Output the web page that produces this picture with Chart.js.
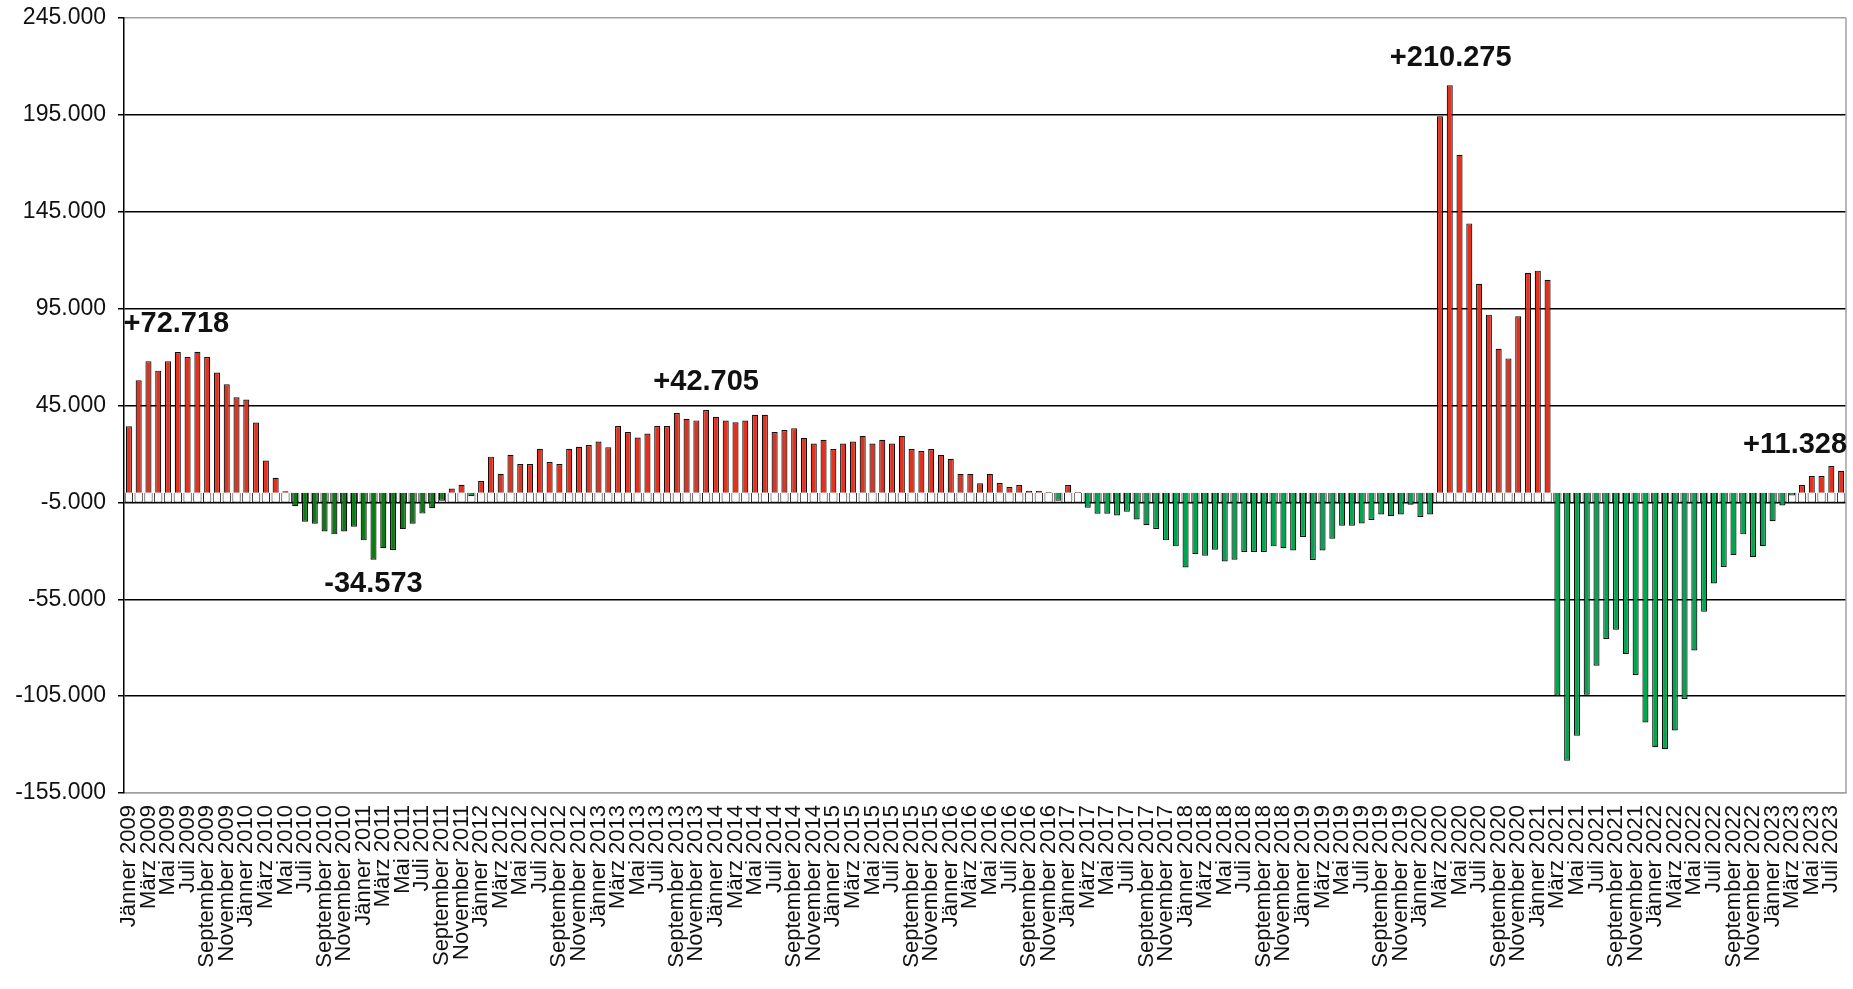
<!DOCTYPE html>
<html>
<head>
<meta charset="utf-8">
<script src="https://cdn.jsdelivr.net/npm/chart.js@4.4.1/dist/chart.umd.min.js"></script>
<style>
html, body { margin: 0; padding: 0; background: #fff; }
#wrap { width: 1853px; height: 989px; position: relative; }
</style>
</head>
<body>
<div id="wrap"><canvas id="grafico_balken"></canvas></div>
<script>
var monate = ['Jänner','Februar','März','April','Mai','Juni','Juli','August','September','Oktober','November','Dezember'];
var jahre = [2009,2010,2011,2012,2013,2014,2015,2016,2017,2018,2019,2020,2021,2022,2023];
var letzterMonat = 8; // August 2023

// Veränderung zum Vorjahresmonat, Jänner 2009 bis August 2023
var werte = [
  34300, 58000, 67900, 63000, 67900, 72600, 70000, 72718, 70000, 62000, 56000, 49200,
  48100, 36200, 16600, 7700, 700, -7000, -15000, -16000, -20000, -21500, -20000, -17600,
  -24600, -34573, -28700, -29600, -18800, -16000, -10800, -8000, -4200, 2200, 4100, -1800,
  6000, 18600, 9800, 19600, 14800, 14800, 22700, 15800, 14800, 22700, 23700, 24600,
  26400, 23500, 34400, 31300, 28500, 30500, 34400, 34400, 41100, 38200, 37300, 42705,
  39200, 37200, 36300, 37200, 40200, 40200, 31300, 32300, 33300, 28300, 25400, 27300,
  22500, 25400, 26400, 29300, 25400, 27300, 25400, 29300, 22500, 21500, 22500, 19500,
  17500, 9700, 9700, 4900, 9700, 5000, 2900, 4000, 1000, 1000, 300, -4200,
  4000, 300, -7800, -10900, -10900, -11800, -9900, -13800, -16800, -18700, -24600, -27700,
  -38600, -31700, -32500, -29400, -35500, -34600, -30600, -30600, -30600, -27700, -28700, -29800,
  -22900, -34700, -29800, -23800, -17100, -17100, -15900, -14100, -11200, -12100, -11200, -6200,
  -12500, -11200, 194300, 210275, 174400, 139000, 107800, 91900, 74300, 69300, 91100, 113500,
  114600, 109900, -104800, -138400, -125500, -104300, -89300, -75500, -70700, -83300, -94100, -118600,
  -131400, -132400, -122700, -106500, -81400, -61500, -46900, -38300, -32200, -21500, -33300, -27600,
  -14700, -6600, -1500, 4000, 8600, 8600, 13800, 11328
];

// Achsenbereich und beschriftete Extremwerte
var yMin = -155000, yMax = 245000, yStep = 50000;
var sockel = -5000;
var markiert = [7, 25, 59, 135, 175];

var kategorien = [];
jahre.forEach(function(j) {
  monate.forEach(function(m, k) {
    if (j < 2023 || k < letzterMonat) kategorien.push(m + ' ' + j);
  });
});

var fmt = function(v) {
  var s = Math.abs(Math.round(v)).toString();
  var out = '';
  while (s.length > 3) {
    out = '.' + s.slice(-3) + out;
    s = s.slice(0, -3);
  }
  return (v < 0 ? '-' : '') + s + out;
};

var farben = werte.map(function(v, i) {
  if (v >= 0) return '#E2311F';
  return i < 34 ? '#0B7A12' : '#00A550';
});

var versatz = { 7: [-21, -28], 25: [0, 24], 59: [0, -28], 135: [1, -27], 175: [-46, -26] };

var markenPlugin = {
  id: 'marken',
  afterDatasetsDraw: function(chart) {
    var ctx = chart.ctx, xs = chart.scales.x, ys = chart.scales.y, a = chart.chartArea;
    ctx.save();
    ctx.strokeStyle = '#a0a0a0';
    ctx.lineWidth = 1.5;
    ctx.beginPath();
    ctx.moveTo(a.right, a.top);
    ctx.lineTo(a.right, a.bottom);
    ctx.stroke();
    ctx.font = 'bold 29px "Liberation Sans", Arial, sans-serif';
    ctx.fillStyle = '#111';
    ctx.textAlign = 'center';
    ctx.textBaseline = 'middle';
    markiert.forEach(function(i) {
      var v = werte[i];
      var o = versatz[i] || [0, -30];
      var txt = (v > 0 ? '+' : '') + fmt(v);
      ctx.fillText(txt, xs.getPixelForValue(i) + o[0], ys.getPixelForValue(v) + o[1]);
    });
    ctx.restore();
  }
};

new Chart(document.getElementById('grafico_balken'), {
  type: 'bar',
  data: {
    labels: kategorien,
    datasets: [{
        label: 'Veränderung',
        data: werte,
        backgroundColor: farben,
        borderColor: '#111',
        borderWidth: 1.2,
        grouped: false,
        barPercentage: 0.62,
        categoryPercentage: 1
      }, {
        label: 'Sockel',
        data: werte.map(function() { return [sockel, 0]; }),
        backgroundColor: '#ffffff',
        borderColor: '#222',
        borderWidth: 1,
        grouped: false,
        barPercentage: 0.85,
        categoryPercentage: 1
      }]
  },
  options: {
    responsive: true,
    maintainAspectRatio: false,
    animation: false,
    layout: { padding: { top: 18, right: 7, left: 0, bottom: 0 } },
    plugins: {
      legend: { display: false },
      tooltip: { enabled: false },
      title: { display: false }
    },
    scales: {
      x: {
        grid: { display: false, drawTicks: false },
        border: { display: true, color: '#a0a0a0', width: 1.5 },
        ticks: {
          autoSkip: false,
          minRotation: 90,
          maxRotation: 90,
          padding: 12,
          color: '#111',
          font: { family: '"Liberation Sans", Arial, sans-serif', size: 22 },
          callback: function(val, idx) {
            return idx % 2 === 0 ? this.getLabelForValue(val) : '';
          }
        },
        afterFit: function(scale) {
          scale.height = 196;
          scale.paddingLeft = 0;
          scale.paddingRight = 0;
        }
      },
      y: {
        min: yMin,
        max: yMax,
        grid: {
          color: function(c) {
            return c.tick && (c.tick.value === yMax || c.tick.value === yMin) ? '#a0a0a0' : '#000';
          },
          lineWidth: 1.5,
          tickColor: '#000',
          tickLength: 6
        },
        border: { display: true, color: '#000', width: 1.5 },
        ticks: {
          stepSize: yStep,
          padding: 12,
          color: '#111',
          font: { family: '"Liberation Sans", Arial, sans-serif', size: 23 },
          callback: function(v) { return fmt(v); }
        },
        afterFit: function(scale) {
          scale.width = 124;
          scale.paddingTop = 0;
          scale.paddingBottom = 0;
        }
      }
    }
  },
  plugins: [markenPlugin]
});
</script>
</body>
</html>
